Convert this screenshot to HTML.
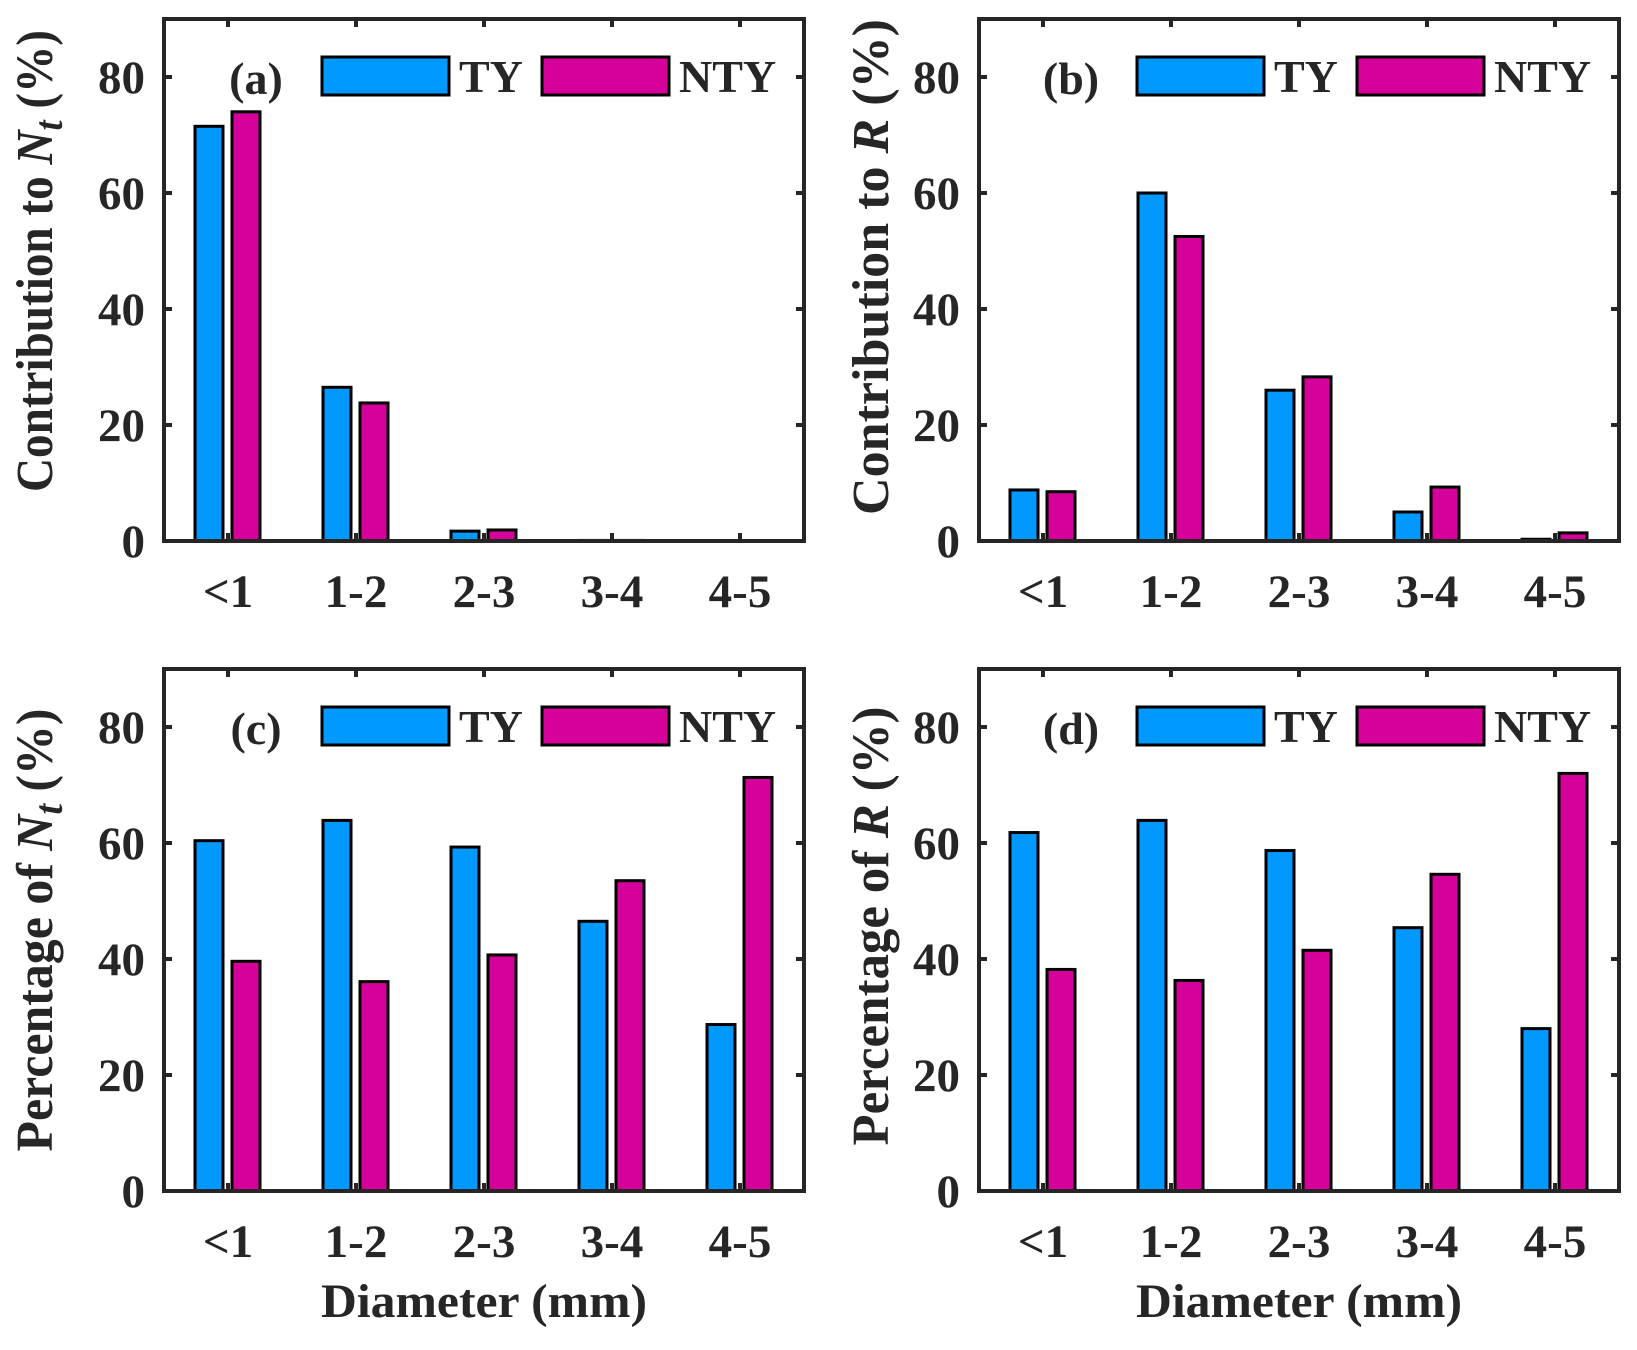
<!DOCTYPE html>
<html><head><meta charset="utf-8"><style>
html,body{margin:0;padding:0;background:#fff;}
svg text{font-family:"Liberation Serif",serif;font-weight:bold;fill:#262626;}
</style></head><body>
<svg id="fig" width="1637" height="1345" viewBox="0 0 1637 1345" xmlns="http://www.w3.org/2000/svg"></svg>
<script>
const categories = ["<1","1-2","2-3","3-4","4-5"];
const yTicks = [0,20,40,60,80];
const seriesNames = ["TY","NTY"];
const aTY = [71.5,26.5,1.7,0.1,0.05];
const aNTY = [74,23.8,1.9,0.1,0.05];
const bTY = [8.8,60,26,5,0.3];
const bNTY = [8.5,52.5,28.3,9.3,1.4];
const cTY = [60.4,63.9,59.3,46.5,28.7];
const cNTY = [39.6,36.1,40.7,53.5,71.3];
const dTY = [61.8,63.9,58.7,45.4,28];
const dNTY = [38.2,36.3,41.5,54.6,72];

const NS="http://www.w3.org/2000/svg";
const svg=document.getElementById('fig');
const COL=["#0099FF","#D6009A"];
function mk(tag,attrs,parent){const e=document.createElementNS(NS,tag);for(const k in attrs)e.setAttribute(k,attrs[k]);(parent||svg).appendChild(e);return e;}

const panels=[
 {id:'a',L:164,T:19,tyv:aTY,ntv:aNTY,lab:'(a)',yl:['Contribution to ','N','t',' (%)'],ylx:52,ylc:261,yllen:462,xl:false},
 {id:'b',L:979,T:19,tyv:bTY,ntv:bNTY,lab:'(b)',yl:['Contribution to ','R','',' (%)'],ylx:888,ylc:267,yllen:496,xl:false},
 {id:'c',L:164,T:669,tyv:cTY,ntv:cNTY,lab:'(c)',yl:['Percentage of ','N','t',' (%)'],ylx:52,ylc:930,yllen:443,xl:true},
 {id:'d',L:979,T:669,tyv:dTY,ntv:dNTY,lab:'(d)',yl:['Percentage of ','R','',' (%)'],ylx:888,ylc:926,yllen:439,xl:true}
];
const W=640,H=522,YMAX=90;
panels.forEach(p=>{
 const g=mk('g',{});
 
 
 const B=p.T+H;
 const xs=i=>p.L+W/5*(i+0.5);
 const ys=v=>B-v/YMAX*H;
 [p.tyv,p.ntv].forEach((arr,s)=>{
  arr.forEach((v,i)=>{
   const cx=xs(i)+(s===0?-19:18);
   const r=mk('rect',{x:cx-14,y:ys(v),width:28,height:Math.max(0,B-ys(v)),fill:COL[s],stroke:'#000','stroke-width':3},g);
   
   
  });
 });
 const ax=mk('rect',{x:p.L,y:p.T,width:W,height:H,fill:'none',stroke:'#262626','stroke-width':4},g);
 
 
 yTicks.forEach(t=>{
  const y=ys(t);
  mk('line',{x1:p.L,x2:p.L+8,y1:y,y2:y,stroke:'#262626','stroke-width':4},g);
  mk('line',{x1:p.L+W-8,x2:p.L+W,y1:y,y2:y,stroke:'#262626','stroke-width':4},g);
  const tx=mk('text',{x:p.L-19,y:y+16,'text-anchor':'end','font-size':47},g);
  tx.textContent=t;
  
  
 });
 categories.forEach((c,i)=>{
  const x=xs(i);
  mk('line',{x1:x,x2:x,y1:B,y2:B-8,stroke:'#262626','stroke-width':4},g);
  mk('line',{x1:x,x2:x,y1:p.T,y2:p.T+8,stroke:'#262626','stroke-width':4},g);
  const tx=mk('text',{x:x,y:B+66,'text-anchor':'middle','font-size':47},g);
  tx.textContent=c;
  
  
 });
 const pl=mk('text',{x:p.L+92,y:p.T+75,'text-anchor':'middle','font-size':46,fill:'#000'},g);
 pl.textContent=p.lab;
 
 
 const lg=mk('g',{},g);
 
 
 [[158,295],[378,515]].forEach((o,s)=>{
  mk('rect',{x:p.L+o[0],y:p.T+38,width:127,height:38,fill:COL[s],stroke:'#000','stroke-width':3},lg);
  const t=mk('text',{x:p.L+o[1],y:p.T+73,'font-size':46,fill:'#000'},lg);
  t.textContent=seriesNames[s];
  
  
 });
 const yl=mk('text',{x:0,y:0,'text-anchor':'middle','font-size':52,transform:`translate(${p.ylx},${p.ylc}) rotate(-90)`,textLength:p.yllen,lengthAdjust:'spacingAndGlyphs'},g);
 
 
 const s1=mk('tspan',{},yl);s1.textContent=p.yl[0];
 const s2=mk('tspan',{'font-style':'italic'},yl);s2.textContent=p.yl[1];
 if(p.yl[2]){const s3=mk('tspan',{'font-style':'italic','font-size':40,dy:10},yl);s3.textContent=p.yl[2];
  const s4=mk('tspan',{dy:-10},yl);s4.textContent=p.yl[3];}
 else{const s4=mk('tspan',{},yl);s4.textContent=p.yl[3];}
 if(p.xl){
  const xl=mk('text',{x:p.L+W/2,y:1317,'text-anchor':'middle','font-size':48,textLength:326,lengthAdjust:'spacingAndGlyphs'},g);
  xl.textContent='Diameter (mm)';
  
  
 }
});
</script>
</body></html>
